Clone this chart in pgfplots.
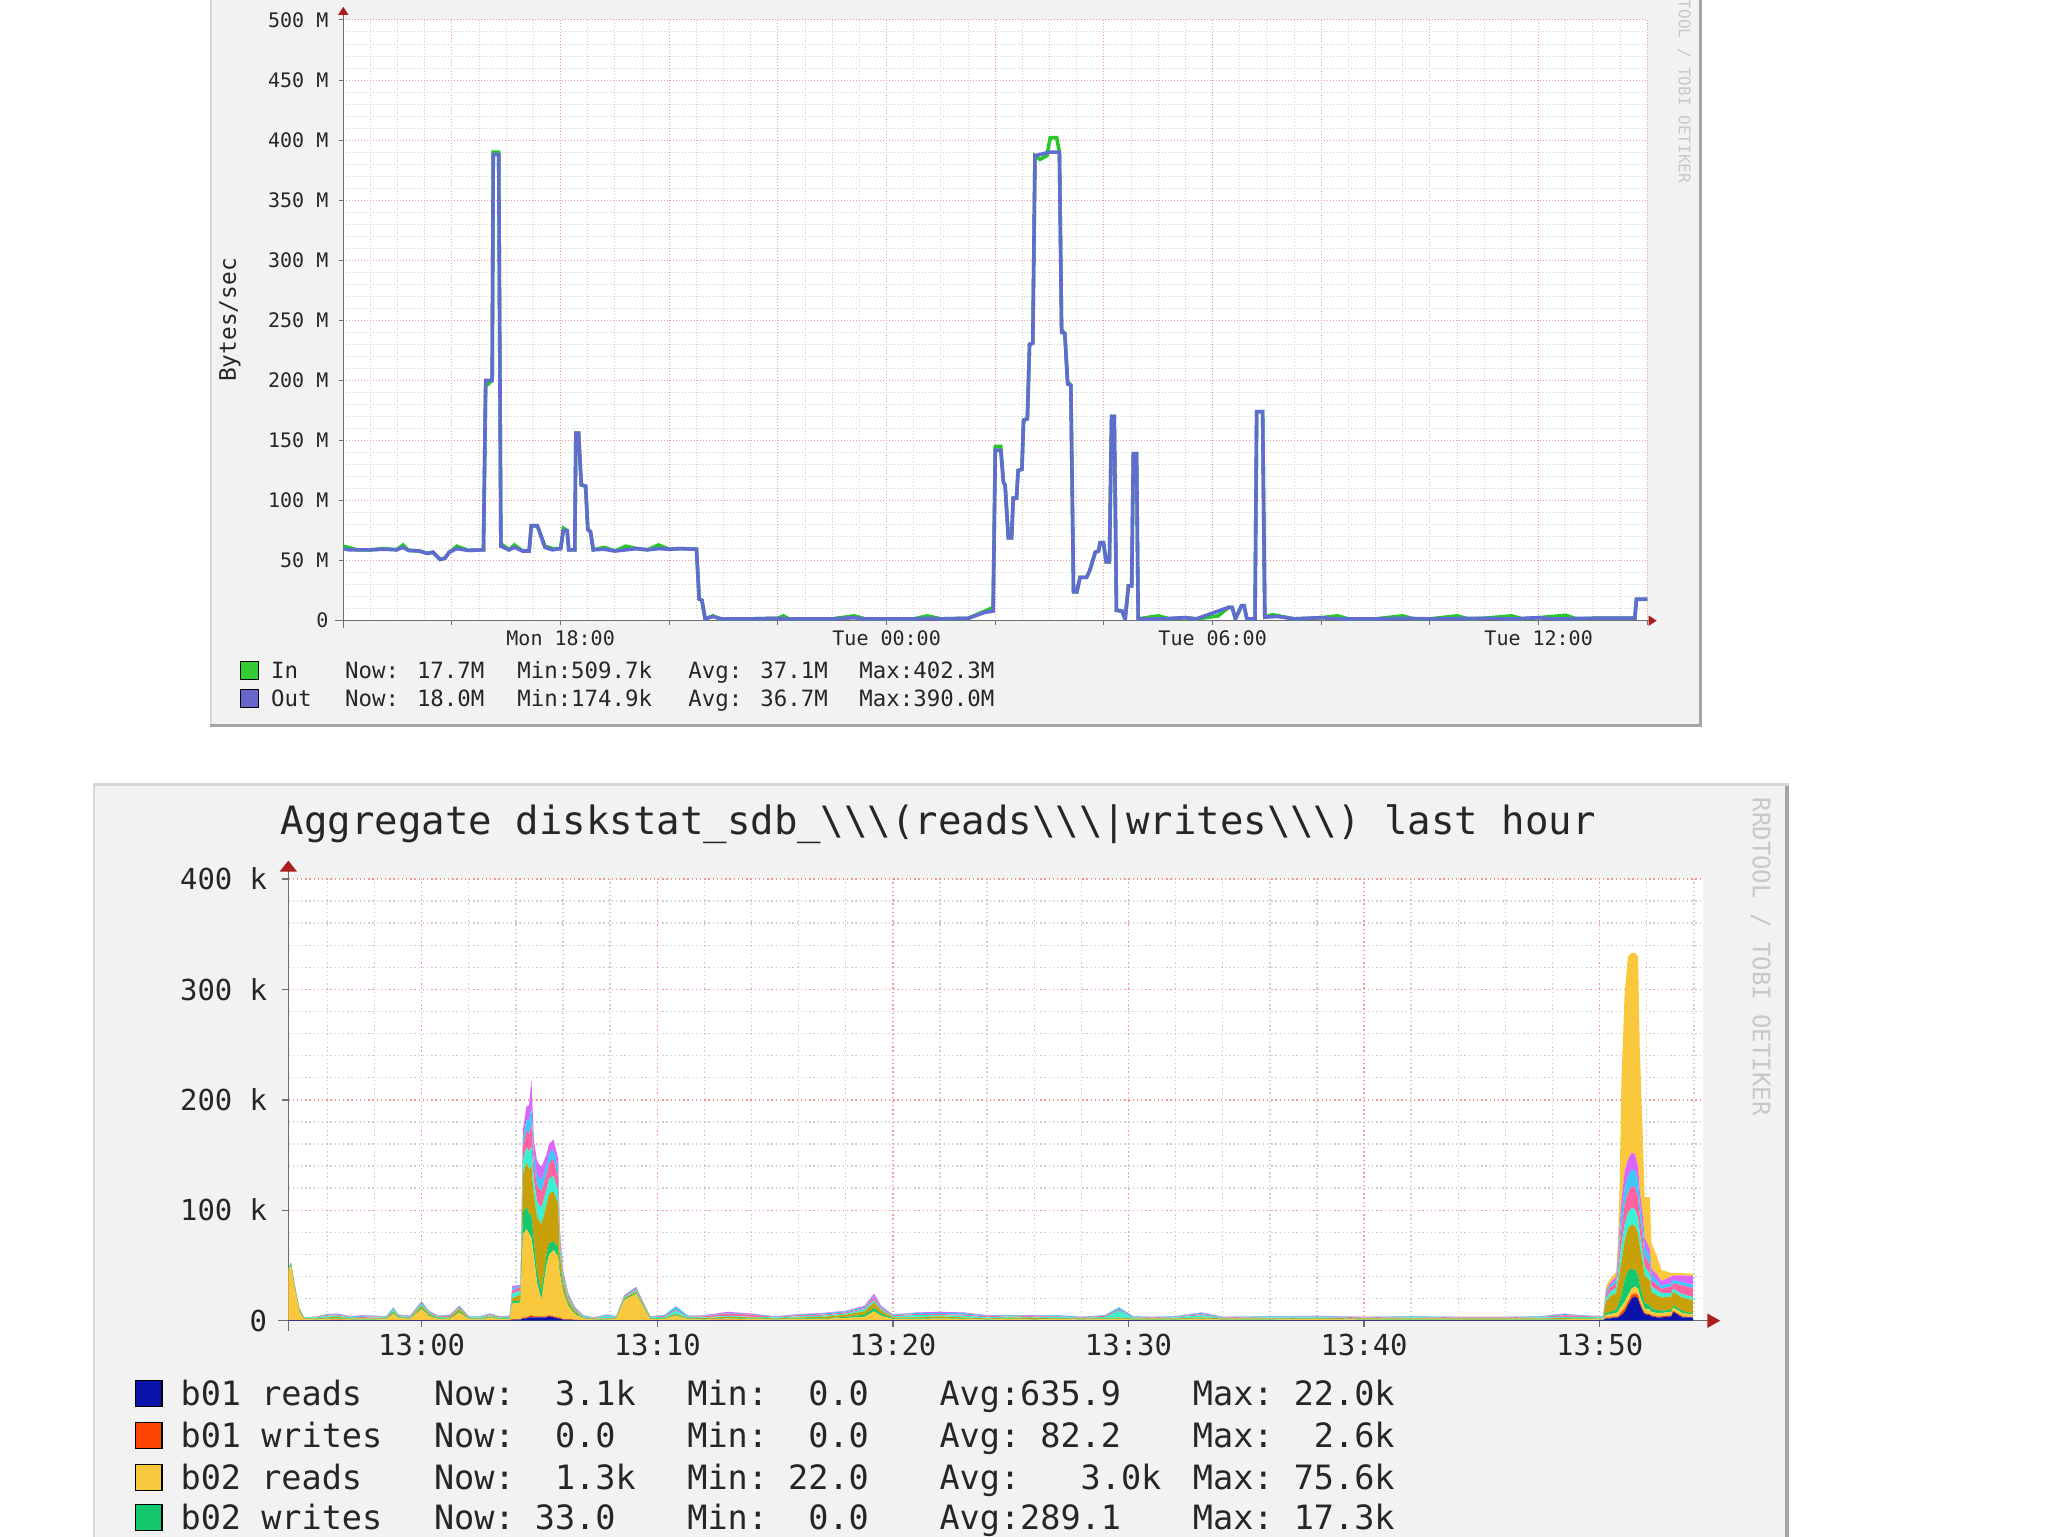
\documentclass[border=0pt]{standalone}
\usepackage{fontspec}
\setmainfont{DejaVu Sans Mono}
\usepackage{pgfplots}
\pgfplotsset{compat=1.18}
\usepackage{pgfplotstable}
\usetikzlibrary{arrows.meta}

\definecolor{framebg}{RGB}{242,242,242}
\definecolor{shadelt}{RGB}{215,215,215}
\definecolor{shadedk}{RGB}{165,165,165}
\definecolor{axisgray}{RGB}{110,110,110}
\definecolor{arrowred}{RGB}{170,30,30}
\definecolor{mgrid}{RGB}{245,150,150}
\definecolor{ngrid}{RGB}{205,205,205}
\definecolor{wmark}{RGB}{200,200,200}
\definecolor{inC}{RGB}{40,200,40}
\definecolor{outC}{RGB}{96,108,208}
\definecolor{inSq}{RGB}{51,204,51}
\definecolor{outSq}{RGB}{102,102,204}
% stacked series colours
\definecolor{cA}{RGB}{10,20,170}
\definecolor{cB}{RGB}{255,70,0}
\definecolor{cC}{RGB}{250,200,60}
\definecolor{cD}{RGB}{20,200,110}
\definecolor{cE}{RGB}{200,160,10}
\definecolor{cF}{RGB}{60,240,210}
\definecolor{cG}{RGB}{255,100,160}
\definecolor{cH}{RGB}{60,200,250}
\definecolor{cI}{RGB}{220,100,255}
\definecolor{cJ}{RGB}{250,200,60}

\newcommand\fTopAx{\fontsize{10}{12}\selectfont}
\newcommand\fTopLg{\fontsize{11.2}{14}\selectfont}
\newcommand\fBotAx{\fontsize{14.45}{17}\selectfont}
\newcommand\fBotLg{\fontsize{16.75}{20}\selectfont}
\newcommand\fTitle{\fontsize{19.5}{23}\selectfont}

% minutes after 13:00, values in k
\pgfplotstableread{
m A B C D E F G H I J
-5.66 0.5 0 45 1 0 1 0 0 0 0
-5.55 0.5 0 50 1 0 1 0 0 0 0
-5.40 0.5 0 30 1 1 1 0 0 0 0
-5.20 0.5 0 8 1 1 0.5 0.5 0 0 0
-5.00 0.5 0 1 0.5 0.5 0.5 0 0 0 0
-4.50 0.5 0 0.5 0.5 0.5 1 0.5 0 0 0
-4.00 0.5 0 1 0.5 1 1.5 1 0.5 0 0
-3.60 0.5 0.5 1 0.5 1 1 1 0.5 0.5 0
-3.00 0.5 0 0.5 0.5 0.5 1 0.5 0.5 0 0
-2.50 0.5 0 0.5 0.5 0.5 0.5 1 1 0.5 0
-2.00 0.5 0 0.5 0.5 0.5 1 1 0.5 0 0
-1.50 0.5 0 1 0.5 0.5 0.5 0.5 0.5 0 0
-1.20 0.5 0 6 1 1 2 0.5 1 0 0
-1.00 0.5 0 2 0.5 0.5 1 0.5 0.5 0 0
-0.50 0.5 0 1 0.5 0.5 0.5 0.5 0.5 0.5 0
0.00 0.5 0 10 1 2 2 1 1 0 0
0.30 0.5 0 4 1 1 1 1 0.5 0 0
0.70 0.5 0 1 0.5 0.5 1 0.5 0.5 0 0
1.20 0.5 0 1 0.5 1 0.5 1 0.5 0.5 0
1.60 0.5 0 7 1 2 1 1 1 0 0
2.00 0.5 0 1 0.5 0.5 0.5 0.5 0.5 0 0
2.50 0.5 0 0.5 0.5 0.5 1 0.5 0.5 0 0
2.90 0.5 0 2 0.5 1 1 1 0.5 0 0
3.30 0.5 0 1 0.5 0.5 0.5 0.5 0.5 0 0
3.74 0.5 0 1 0.5 0.5 1 0.5 0.5 0 0
3.85 1 0.5 14 2 3 4 3 2 2 0
4.20 1 0.5 15 2 5 4 3 1 1 0
4.30 2 1 75 20 35 12 12 8 8 0
4.45 2 1 80 20 40 14 15 10 12 0
4.56 3 1 75 18 40 16 16 12 14 0
4.66 3 2 70 20 45 18 20 15 25 0
4.76 3 1 55 15 40 14 14 10 12 0
4.90 3 1 30 10 50 14 14 10 12 0
5.08 3 1 15 8 60 15 15 10 12 0
5.29 3 1 45 10 45 14 14 9 9 0
5.41 4 1 55 10 45 14 14 8 9 0
5.60 3 1 60 8 45 14 15 9 9 0
5.79 2 1 55 8 40 12 12 8 9 0
5.86 2 1 40 5 15 8 6 4 4 0
6.00 1 0.5 25 3 6 4 3 2 1.5 0
6.22 1 0.5 12 2 3 2 2 1.5 1 0
6.50 0.5 0.5 5 1 2 1 1 1 0.5 0
6.85 0.5 0 1.5 0.5 0.5 1 0.5 0.5 0 0
7.30 0.5 0 0.5 0.5 0.5 0.5 0.5 0 0 0
7.84 0.5 0 0.5 0.5 0.5 2 0.5 1 0 0
8.26 0.5 0 1 0.5 0.5 0.5 0.5 0.5 0 0
8.60 0.5 0 18 1 1 1 1 0.5 0 0
9.10 0.5 0 24 1 1 1.5 1.5 1 0 0
9.40 0.5 0 12 1 1 1 1 0.5 0 0
9.70 0.5 0 1 0.5 0.5 0.5 0.5 0.5 0 0
10.30 0.5 0 1 0.5 0.5 1 1 0.5 0 0
10.80 0.5 0 4 0.5 1 3 1 3 0 0
11.30 0.5 0 1 0.5 0.5 1 0.5 0.5 0 0
12.00 0.5 0 0.5 0.5 1 0.5 1 0.5 0.5 0
13.00 0.5 0.5 1 0.5 1 1 2 0.5 1 0
14.00 0.5 0 1 0.5 1 0.5 2 0.5 0.5 0
15.00 0.5 0 0.5 0.5 0.5 1 0.5 0.5 0 0
16.00 0.5 0 1 0.5 1 1 1 0.5 0.5 0
17.00 0.5 0 1 0.5 1.5 1 1 1 0.5 0
18.00 0.5 0 2 1 2 1 1 1 0.5 0
18.80 0.5 0 3 2 3 2 1 1 1 0
19.20 0.5 0 8 3 5 2 3 1 2 0
19.50 0.5 0 4 2 3 1 1 1 1 0
20.00 0.5 0 1 0.5 1 1 1 0.5 0 0
21.00 0.5 0 1 0.5 1 2 1 1 0.5 0
22.00 0.5 0 1.5 0.5 1.5 1 1 1 1 0
23.00 0.5 0 1 0.5 1 1.5 1 1.5 0.5 0
24.00 0.5 0 0.5 0.5 0.5 1 1 0.5 0.5 0
25.00 0.5 0 1 0.5 1 1 0.5 0.5 0 0
26.00 0.5 0 0.5 0.5 1 0.5 1 0.5 0.5 0
27.00 0.5 0 1 0.5 0.5 1 0.5 1 0 0
28.00 0.5 0 0.5 0.5 0.5 0.5 0.5 0.5 0 0
29.00 0.5 0 1 0.5 0.5 1 1 0.5 0 0
29.60 0.5 0 1 0.5 1 6 1 2 0 0
30.20 0.5 0 0.5 0.5 0.5 1 0.5 0.5 0 0
31.00 0.5 0 0.5 0.5 0.5 0.5 0.5 0.5 0 0
32.00 0.5 0 0.5 0.5 0.5 1 0.5 0.5 0 0
33.10 0.5 0 1 0.5 1 2 1 1 0.5 0
34.00 0.5 0 0.5 0.5 0.5 0.5 0.5 0.5 0 0
36.00 0.5 0 0.5 0.5 0.5 1 0.5 0.5 0 0
38.00 0.5 0 1 0.5 0.5 0.5 0.5 0.5 0.5 0
40.00 0.5 0 0.5 0.5 0.5 0.5 0.5 0.5 0 0
42.00 0.5 0 0.5 0.5 0.5 1 0.5 0.5 0 0
44.00 0.5 0 0.5 0.5 0.5 0.5 0.5 0.5 0 0
46.00 0.5 0 0.5 0.5 0.5 0.5 0.5 0.5 0 0
47.50 0.5 0 0.5 0.5 0.5 1 0.5 0.5 0 0
48.50 0.5 0 0.5 0.5 1 1 1.5 1 0.5 0
49.16 0.5 0 1 0.5 0.5 1 1 0.5 0 0
50.15 0.5 0 0.5 0.5 0.5 1 0.5 0.5 0 0
50.26 2 1 2 2 10 3 3 2 2 3
50.45 2 1 3 2 14 4 4 2 2 4
50.70 3 1 3 3 15 5 4 3 3 4
50.78 3 1 4 6 20 8 8 5 5 12
50.85 4 2 5 8 25 12 12 10 10 36
50.92 5 3 5 10 30 15 15 12 12 108
51.06 8 3 6 20 35 15 18 15 15 161
51.20 14 3 6 22 38 15 18 15 15 184
51.35 20 3 6 18 40 15 20 15 15 181
51.50 22 3 6 15 40 15 20 15 15 182
51.63 20 3 6 12 38 14 18 14 14 191
51.70 15 2 6 10 35 12 15 12 12 130
51.84 8 2 5 6 30 10 12 10 10 67
51.91 6 1 4 5 25 8 10 8 8 37
52.13 5 1 4 4 22 7 8 7 7 47
52.20 4 1 3 3 15 5 6 5 5 23
52.41 3 1 3 3 13 5 5 4 5 18
52.62 3 1 3 2 12 4 4 3 4 10
53.05 4 1 3 2 12 3 6 3 6 3
53.12 8 1 3 2 12 3 5 3 4 2
53.50 3 1 3 2 12 3 8 3 6 2
53.96 3 0.5 2 1 12 3 8 3 8 2
}\diskdata

\begin{document}
\begin{tikzpicture}[x=0.5pt,y=0.5pt]
\path[use as bounding box, fill=white] (0,0) rectangle (2048,1536);

% ---- frames
\fill[framebg] (210,809) rectangle (1702,1560);
\fill[shadelt] (210,812) rectangle (212,1560);
\fill[shadedk] (1699,809) rectangle (1702,1560);
\fill[shadedk] (210,809) rectangle (1702,812);

\fill[framebg] (92.7,-20) rectangle (1789,752.7);
\fill[shadelt] (92.7,750) rectangle (1789,752.7);
\fill[shadelt] (92.7,-20) rectangle (95,752.7);
\fill[shadedk] (1785,-20) rectangle (1789,750);

% plot canvases
\fill[white] (343.3,915.3) rectangle (1647.3,1516);
\fill[white] (288.3,215.3) rectangle (1703.3,657);

\coordinate (topSW) at (343.3,915.3);
\coordinate (botSW) at (288.3,215.3);

% ---- top graph
\begin{axis}[
  at={(topSW)}, anchor=south west,
  scale only axis, width=652pt, height=300.35pt,
  xmin=0, xmax=24, ymin=0, ymax=500,
  axis lines=left,
  axis line style={draw=axisgray, line width=0.6pt},
  x axis line style={shorten <=-4pt, shorten >=-4.7pt,
    -{Triangle[length=4pt,width=5pt,color=arrowred]}},
  y axis line style={shorten <=-3.5pt, shorten >=-6.6pt,
    -{Triangle[length=4pt,width=5pt,color=arrowred]}},
  xtick={0,2,...,24},
  xticklabels={,,Mon 18:00,,,Tue 00:00,,,Tue 06:00,,,Tue 12:00,},
  minor x tick num=3,
  ytick={0,50,...,500},
  yticklabels={0,50 M,100 M,150 M,200 M,250 M,300 M,350 M,400 M,450 M,500 M},
  minor y tick num=4,
  grid=both,
  major grid style={draw=mgrid, line width=0.5pt, dash pattern=on 0.5pt off 1pt},
  minor grid style={draw=ngrid, line width=0.5pt, dash pattern=on 0.5pt off 1pt},
  tick style={draw=axisgray, line width=0.5pt},
  tick align=outside, major tick length=2pt, minor tick length=0pt,
  xticklabel style={font=\fTopAx, text=black!85, anchor=base, inner sep=0pt, yshift=-10.3pt},
  yticklabel style={font=\fTopAx, text=black!85, anchor=base east, inner sep=0pt, xshift=-5.3pt, yshift=-3.6pt},
]
\addplot[inC, line width=1.8pt] coordinates {
(0.00,62) (0.10,61) (0.25,59) (0.50,59) (0.75,60) (0.98,59) (1.10,63) (1.20,58.5)
(1.40,58) (1.55,56) (1.65,57) (1.78,51) (1.87,52) (1.95,57) (2.09,62) (2.30,58.5)
(2.58,59) (2.62,195) (2.74,200) (2.76,390) (2.86,390) (2.90,64) (3.05,59) (3.15,63)
(3.30,58) (3.42,58) (3.46,79) (3.57,79) (3.62,73) (3.71,62) (3.85,60) (4.00,60)
(4.05,77) (4.12,75) (4.15,59) (4.26,59) (4.28,156) (4.33,156) (4.38,113) (4.46,112)
(4.50,76) (4.55,74) (4.60,59) (4.80,61) (5.00,58) (5.20,62) (5.40,60) (5.60,59)
(5.80,63) (6.00,59.5) (6.20,60) (6.50,59.5) (6.55,18) (6.60,17) (6.66,1.5) (6.80,4)
(6.95,1.5) (7.50,1.5) (8.00,2) (8.10,4) (8.20,1.5) (9.00,1.5) (9.40,4) (9.60,1.5)
(10.50,1.5) (10.75,4) (11.00,1.5) (11.50,2) (11.81,8) (11.96,11) (12.00,145) (12.10,145)
(12.15,115) (12.18,113) (12.24,69) (12.30,69) (12.33,102) (12.39,102) (12.42,125) (12.49,126)
(12.52,167) (12.59,168) (12.63,230) (12.69,231) (12.73,387) (12.82,384) (12.95,387) (13.01,402)
(13.13,402) (13.18,390) (13.22,242) (13.28,239) (13.33,199) (13.39,196) (13.44,24) (13.50,24)
(13.56,36) (13.68,36) (13.74,42) (13.84,57) (13.90,58) (13.93,65) (13.99,65) (14.04,49)
(14.10,49) (14.14,170) (14.19,170) (14.23,8.6) (14.33,8) (14.39,1.4) (14.45,29) (14.51,29)
(14.54,139) (14.60,139) (14.63,1.5) (15.00,4) (15.20,1.5) (15.50,2.5) (15.70,1.5) (16.10,4)
(16.29,11) (16.36,11) (16.42,1.5) (16.53,12.4) (16.58,12.4) (16.63,1.5) (16.78,1.5) (16.81,174)
(16.92,174) (16.96,3) (17.10,5) (17.50,1.5) (18.00,2.5) (18.30,4) (18.50,1.5) (19.00,1.5)
(19.50,4) (19.70,1.5) (20.00,1.5) (20.50,4) (20.70,1.5) (21.00,2) (21.50,4) (21.70,1.5)
(22.00,2.5) (22.50,4.5) (22.70,1.5) (23.00,2) (23.77,2) (23.80,17.7) (24.00,17.7)
};
\addplot[outC, line width=1.8pt] coordinates {
(0.00,60) (0.10,59) (0.25,59) (0.50,59) (0.75,59.5) (0.98,59) (1.10,61) (1.20,58.5)
(1.40,58) (1.55,56) (1.65,57) (1.78,51) (1.87,52) (1.95,57) (2.09,60) (2.30,58.5)
(2.58,59) (2.62,200) (2.74,200) (2.76,388) (2.86,388) (2.90,62) (3.05,59) (3.15,61)
(3.30,58) (3.42,58) (3.46,79) (3.57,79) (3.62,73) (3.71,61) (3.85,59) (4.00,60)
(4.05,75) (4.12,75) (4.15,59) (4.26,59) (4.28,156) (4.33,156) (4.38,113) (4.46,112)
(4.50,76) (4.55,74) (4.60,59) (4.80,59.5) (5.00,58) (5.20,59) (5.40,60) (5.60,59)
(5.80,60) (6.00,59.5) (6.20,60) (6.50,59.5) (6.55,18) (6.60,17) (6.66,1.5) (6.80,3.5)
(6.95,1.5) (7.50,1.5) (8.00,2) (8.20,1.5) (9.00,1.5) (9.40,2.5) (9.60,1.5) (10.50,1.5)
(10.80,2) (11.00,1.5) (11.50,2) (11.81,7) (11.96,8) (12.00,142) (12.10,142) (12.15,115)
(12.18,113) (12.24,69) (12.30,69) (12.33,102) (12.39,102) (12.42,125) (12.49,126) (12.52,167)
(12.59,168) (12.63,230) (12.69,231) (12.73,387) (12.82,388) (13.00,390) (13.13,390) (13.18,390)
(13.22,240) (13.28,239) (13.33,197) (13.39,196) (13.44,24) (13.50,24) (13.56,36) (13.68,36)
(13.74,42) (13.84,57) (13.90,58) (13.93,65) (13.99,65) (14.04,49) (14.10,49) (14.14,170)
(14.19,170) (14.23,8.6) (14.33,8) (14.39,1.4) (14.45,29) (14.51,29) (14.54,139) (14.60,139)
(14.63,1.5) (15.00,1.5) (15.50,2.5) (15.70,1.5) (16.29,11) (16.36,11) (16.42,1.5) (16.53,12.4)
(16.58,12.4) (16.63,1.5) (16.78,1.5) (16.81,174) (16.92,174) (16.96,3) (17.20,3.5) (17.50,1.5)
(18.00,2.5) (18.30,1.5) (19.00,1.5) (19.50,2) (20.00,1.5) (21.00,2) (21.50,1.5) (22.00,2.5)
(22.30,1.5) (23.00,2) (23.77,2) (23.80,18) (24.00,18)
};
\end{axis}

% ---- bottom graph
\begin{axis}[
  at={(botSW)}, anchor=south west,
  scale only axis, width=707.5pt, height=220.85pt,
  xmin=-5.66, xmax=54.4, ymin=0, ymax=400,
  stack plots=y,
  axis lines=left,
  axis line style={draw=axisgray, line width=0.8pt},
  x axis line style={shorten <=-5pt, shorten >=-8.5pt,
    -{Triangle[length=6.5pt,width=7pt,color=arrowred]}},
  y axis line style={shorten <=-5pt, shorten >=-9.2pt,
    -{Triangle[length=5.5pt,width=8.5pt,color=arrowred]}},
  xtick={0,10,...,50},
  xticklabels={13:00,13:10,13:20,13:30,13:40,13:50},
  minor xtick={-4,-2,...,54},
  ytick={0,100,...,400},
  yticklabels={0,100 k,200 k,300 k,400 k},
  minor y tick num=4,
  grid=both,
  major grid style={draw=mgrid, line width=0.7pt, dash pattern=on 0.7pt off 1.4pt},
  minor grid style={draw=ngrid, line width=0.7pt, dash pattern=on 0.7pt off 1.4pt},
  tick style={draw=axisgray, line width=0.7pt},
  tick align=outside, major tick length=3pt, minor tick length=0pt,
  xticklabel style={font=\fBotAx, text=black!85, anchor=base, inner sep=0pt, yshift=-14.6pt},
  yticklabel style={font=\fBotAx, text=black!85, anchor=base east, inner sep=0pt, xshift=-7.4pt, yshift=-5.3pt},
]
\addplot[draw=none, fill=cA] table[x=m, y=A] {\diskdata} \closedcycle;
\addplot[draw=none, fill=cB] table[x=m, y=B] {\diskdata} \closedcycle;
\addplot[draw=none, fill=cC] table[x=m, y=C] {\diskdata} \closedcycle;
\addplot[draw=none, fill=cD] table[x=m, y=D] {\diskdata} \closedcycle;
\addplot[draw=none, fill=cE] table[x=m, y=E] {\diskdata} \closedcycle;
\addplot[draw=none, fill=cF] table[x=m, y=F] {\diskdata} \closedcycle;
\addplot[draw=none, fill=cG] table[x=m, y=G] {\diskdata} \closedcycle;
\addplot[draw=none, fill=cH] table[x=m, y=H] {\diskdata} \closedcycle;
\addplot[draw=none, fill=cI] table[x=m, y=I] {\diskdata} \closedcycle;
\addplot[draw=none, fill=cJ] table[x=m, y=J] {\diskdata} \closedcycle;
\end{axis}

% ---- top texts
\node[rotate=90, font=\fontsize{11.4}{13}\selectfont, text=black!85] at (230,1216) {Bytes/sec};
\node[rotate=-90, font=\fontsize{8}{10}\selectfont, text=wmark] at (1684,1459) {RRDTOOL / TOBI OETIKER};

\fill[inSq, draw=black, line width=0.5pt] (240.2,856.5) rectangle (258.2,874.1);
\fill[outSq, draw=black, line width=0.5pt] (240.2,828.9) rectangle (258.2,846.5);
\begin{scope}[every node/.style={anchor=base west, inner sep=0pt, font=\fTopLg, text=black!85}]
\node at (270.8,857.2) {In};
\node at (344.7,857.2) {Now: 17.7M};
\node at (516.9,857.2) {Min:509.7k};
\node at (688,857.2) {Avg: 37.1M};
\node at (859,857.2) {Max:402.3M};
\node at (270.8,829.6) {Out};
\node at (344.7,829.6) {Now: 18.0M};
\node at (516.9,829.6) {Min:174.9k};
\node at (688,829.6) {Avg: 36.7M};
\node at (859,829.6) {Max:390.0M};
\end{scope}

% ---- bottom texts
\node[anchor=base, inner sep=0pt, font=\fTitle, text=black!85] at (938.4,701)
  {Aggregate diskstat\_sdb\_\textbackslash\textbackslash\textbackslash(reads\textbackslash\textbackslash\textbackslash|writes\textbackslash\textbackslash\textbackslash) last hour};
\node[rotate=-90, font=\fontsize{12}{14}\selectfont, text=wmark] at (1760.6,579.3) {RRDTOOL / TOBI OETIKER};

\fill[cA, draw=black, line width=0.6pt] (135.8,129.4) rectangle (162,155.4);
\fill[cB, draw=black, line width=0.6pt] (135.8,87.6) rectangle (162,113.6);
\fill[cC, draw=black, line width=0.6pt] (135.8,45.8) rectangle (162,71.8);
\fill[cD, draw=black, line width=0.6pt] (135.8,5.3) rectangle (162,31.3);
\begin{scope}[every node/.style={anchor=base west, inner sep=0pt, font=\fBotLg, text=black!85}]
\node at (180.2,130.2) {b01 reads};
\node at (433.6,130.2) {Now:~~3.1k};
\node at (687,130.2) {Min:~~0.0};
\node at (939.1,130.2) {Avg:635.9};
\node at (1192.5,130.2) {Max:~22.0k};
\node at (180.2,88.4) {b01 writes};
\node at (433.6,88.4) {Now:~~0.0};
\node at (687,88.4) {Min:~~0.0};
\node at (939.1,88.4) {Avg:~82.2};
\node at (1192.5,88.4) {Max:~~2.6k};
\node at (180.2,46.6) {b02 reads};
\node at (433.6,46.6) {Now:~~1.3k};
\node at (687,46.6) {Min:~22.0};
\node at (939.1,46.6) {Avg:~~~3.0k};
\node at (1192.5,46.6) {Max:~75.6k};
\node at (180.2,6.1) {b02 writes};
\node at (433.6,6.1) {Now:~33.0};
\node at (687,6.1) {Min:~~0.0};
\node at (939.1,6.1) {Avg:289.1};
\node at (1192.5,6.1) {Max:~17.3k};
\end{scope}
\end{tikzpicture}
\end{document}
